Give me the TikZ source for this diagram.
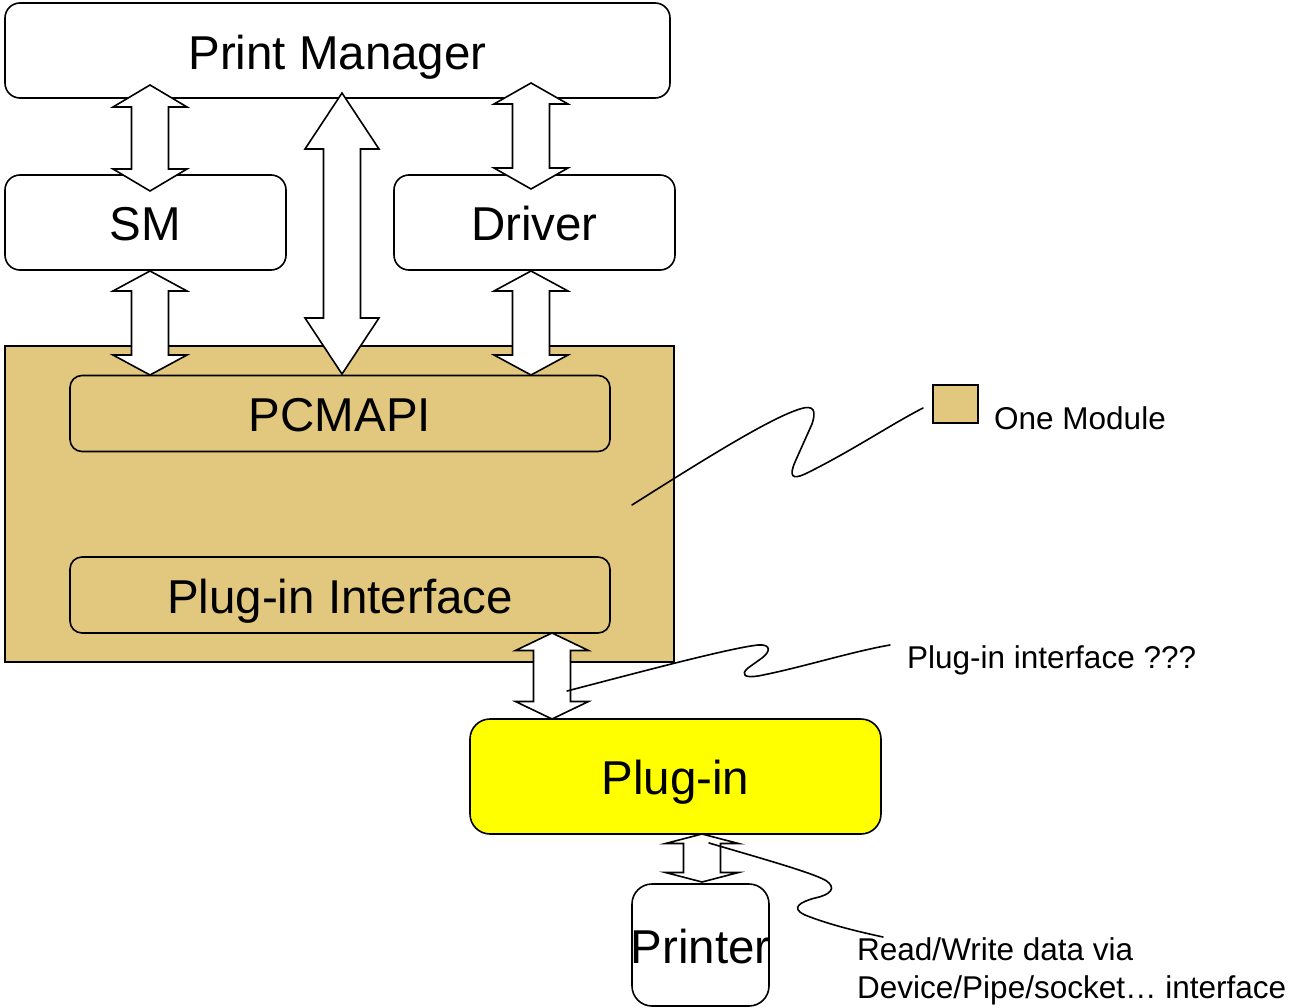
\documentclass[tikz,border=0pt]{standalone}
\usepackage{fontspec}
\setmainfont{Liberation Sans}
\usetikzlibrary{calc}
\definecolor{moduletan}{RGB}{226,199,126}
\definecolor{plugyellow}{RGB}{255,255,0}
\newcommand{\dblockarrow}[5]{%
  \draw[blockarrow] ($(#1)+(-#3,#5)$) -- ($(#1)+(-#4,#5)$) -- (#1) -- ($(#1)+(#4,#5)$) -- ($(#1)+(#3,#5)$)
    -- ($(#2)+(#3,-#5)$) -- ($(#2)+(#4,-#5)$) -- (#2) -- ($(#2)+(-#4,-#5)$) -- ($(#2)+(-#3,-#5)$) -- cycle;}
\begin{document}
\begin{tikzpicture}[x=1pt,y=-1pt,
  lw/.style={line width=1.6pt},
  box/.style={draw, lw, rounded corners=#1, inner sep=0pt, outer sep=0pt,
    text height=36pt, text depth=0pt, font=\fontsize{47.5}{57}\selectfont, fill=white},
  box/.default=15pt,
  blockarrow/.style={draw, lw, fill=white, line join=miter},
  callout/.style={draw, lw, line cap=round},
  small/.style={font=\fontsize{31.5}{38}\selectfont, inner sep=0pt, anchor=base west}]
\useasboundingbox (0,0) rectangle (1292,1008);

% boxes
\node[box, minimum width=665pt, minimum height=95pt, text height=39pt] (pm) at (337.5,50.5) {Print Manager};
\node[box, minimum width=281pt, minimum height=95pt] (sm) at (145.5,222.5) {SM};
\node[box, minimum width=281pt, minimum height=95pt] (drv) at (534.5,222.5) {Driver};
\node[draw, lw, fill=moduletan, inner sep=0pt, outer sep=0pt, minimum width=669pt, minimum height=316pt] (mod) at (339.5,504) {};
\node[box=12pt, fill=moduletan, minimum width=540pt, minimum height=76pt] (pcm) at (340,413.5) {PCMAPI};
\node[box=12pt, fill=moduletan, minimum width=540pt, minimum height=76pt] (pii) at (340,595) {Plug-in Interface};
\node[box=20pt, fill=plugyellow, minimum width=411pt, minimum height=115pt] (plug) at (675.5,776.5) {Plug-in};
\node[box=20pt, minimum width=137pt, minimum height=122pt] (prn) at (700.5,945) {\makebox[0pt][c]{Printer}};

% block arrows
\coordinate (a1t) at (150,85);  \coordinate (a1b) at (150,191);
\coordinate (a2t) at (150,271); \coordinate (a2b) at (150,375);
\coordinate (a3t) at (342,93);  \coordinate (a3b) at (342,374);
\coordinate (a4t) at (531,83);  \coordinate (a4b) at (531,189);
\coordinate (a5t) at (531,271); \coordinate (a5b) at (531,375);
\coordinate (a6t) at (552,633); \coordinate (a6b) at (552,719);
\coordinate (a7t) at (702,834); \coordinate (a7b) at (702,882);
\dblockarrow{a1t}{a1b}{18.5}{37}{22}
\dblockarrow{a2t}{a2b}{18.5}{37}{20}
\dblockarrow{a3t}{a3b}{18.5}{37}{56}
\dblockarrow{a4t}{a4b}{18.5}{37}{21}
\dblockarrow{a5t}{a5b}{18.5}{37}{20}
\dblockarrow{a6t}{a6b}{18.5}{36.5}{17.5}
\dblockarrow{a7t}{a7b}{18.5}{36.5}{9.5}

% legend
\node[draw, lw, fill=moduletan, inner sep=0pt, minimum width=45pt, minimum height=38pt] (leg) at (955.5,404) {};
\node[small] (legt) at (994,429) {One Module};
\node[small] (pit) at (907,668) {Plug-in interface ???};
\node[small] (rw1) at (857,960) {Read/Write data via};
\node[small] (rw2) at (857,998) {Device/Pipe/socket… interface};

% callouts
\coordinate (c1s) at (632,505); \coordinate (c1e) at (923,408);
\draw[callout] (c1s) .. controls (700,462) and (770,418) .. (800,409)
  .. controls (815,404) and (816,412) .. (812,424)
  -- (795,462)
  .. controls (789,476) and (792,480) .. (805,474)
  .. controls (850,452) and (890,425) .. (c1e);
\coordinate (c2s) at (567,691); \coordinate (c2e) at (890,645);
\draw[callout] (c2s) .. controls (640,672) and (730,648) .. (758,645)
  .. controls (772,644) and (770,652) .. (762,658)
  -- (748,668)
  .. controls (740,675) and (745,678) .. (758,676)
  .. controls (800,668) and (850,652) .. (c2e);
\coordinate (c3s) at (709,843); \coordinate (c3e) at (883,937);
\draw[callout] (c3s) .. controls (760,858) and (810,872) .. (825,880)
  .. controls (838,888) and (830,895) .. (815,898)
  .. controls (800,902) and (790,908) .. (805,915)
  .. controls (830,925) and (860,932) .. (c3e);
\end{tikzpicture}
\end{document}
